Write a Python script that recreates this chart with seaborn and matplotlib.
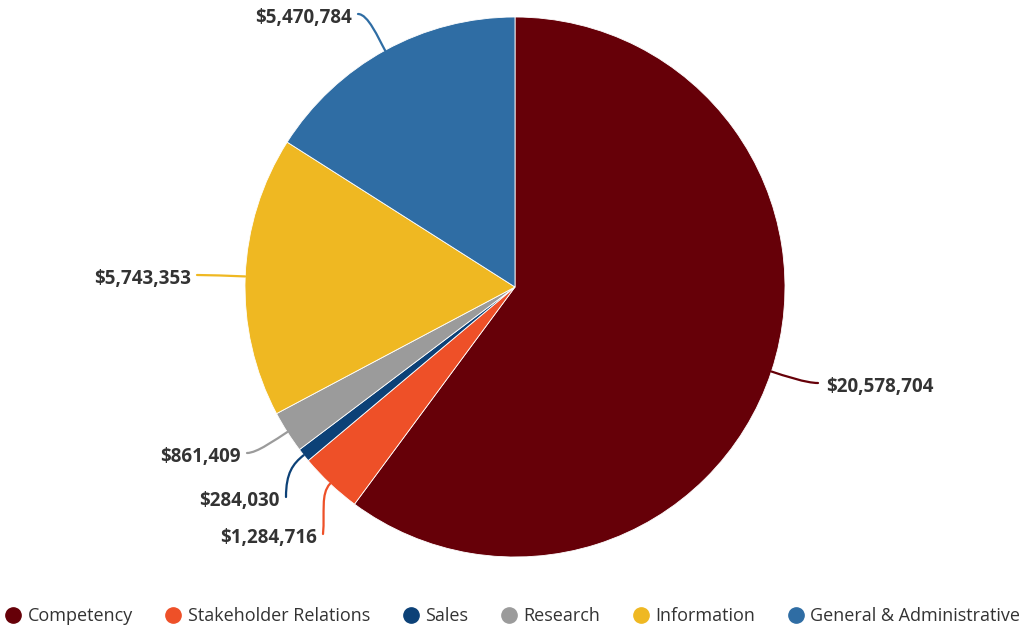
import numpy as np
import matplotlib
matplotlib.use("Agg")
import matplotlib.pyplot as plt
from matplotlib.path import Path
from matplotlib.patches import PathPatch
from matplotlib.lines import Line2D
import seaborn as sns

# Budget by function
categories = ["Competency", "Stakeholder Relations", "Sales", "Research",
              "Information", "General & Administrative"]
amounts = [20578704, 1284716, 284030, 861409, 5743353, 5470784]
colors = ["#660008", "#EE5028", "#0C4177", "#9B9B9B", "#EFB822", "#2F6DA4"]

sns.set_theme(style="white")
plt.rcParams["font.family"] = ["Open Sans", "DejaVu Sans"]

W, H = 1024, 629
fig = plt.figure(figsize=(W / 100, H / 100), dpi=100)
ax = fig.add_axes([0, 0, 1, 1])

cx, cy, R = 515, 287, 270
# y axis runs downward, so start at -90 (top) and go counterclockwise in
# data terms, which reads clockwise on screen
wedges, _ = ax.pie(amounts, colors=colors, startangle=-90, counterclock=True,
                   center=(cx, cy), radius=R, frame=True,
                   wedgeprops=dict(linewidth=0.6, edgecolor="white"))
ax.set_xlim(0, W)
ax.set_ylim(H, 0)
ax.axis("off")

# connector end next to each label: (x, y, side, tangent leaving the label)
label_anchor = [
    (818, 383, "left", (-12, 0)),
    (323, 534, "right", (2, -22)),
    (286, 497, "right", (0, -24)),
    (247, 453, "right", (10, 0)),
    (197, 275, "right", (10, 0)),
    (358, 14, "right", (10, 0)),
]

for w, amt, col, (lx, ly, side, tan) in zip(wedges, amounts, colors, label_anchor):
    mid = np.deg2rad((w.theta1 + w.theta2) / 2)
    ex = w.center[0] + w.r * np.cos(mid)
    ey = w.center[1] + w.r * np.sin(mid)
    out = 14
    c2 = (w.center[0] + (w.r + out) * np.cos(mid),
          w.center[1] + (w.r + out) * np.sin(mid))
    c1 = (lx + tan[0], ly + tan[1])
    path = Path([(lx, ly), c1, c2, (ex, ey)],
                [Path.MOVETO, Path.CURVE4, Path.CURVE4, Path.CURVE4])
    ax.add_patch(PathPatch(path, facecolor="none", edgecolor=col, lw=1.6,
                           capstyle="round"))
    tx = lx - 6 if side == "right" else lx + 8
    ax.text(tx, ly + 4, f"${amt:,}", ha=side if side == "right" else "left",
            va="center", fontsize=13.5, fontweight="bold", color="#333333")

handles = [Line2D([0], [0], marker="o", linestyle="none", markersize=11,
                  markerfacecolor=c, markeredgecolor=c) for c in colors]
fig.legend(handles, categories, loc="center", bbox_to_anchor=(0.5, 1 - 616 / H),
           ncol=6, frameon=False, fontsize=13, handletextpad=0.3,
           columnspacing=1.75, handlelength=1.0, labelcolor="#333333")

fig.savefig("out.png", dpi=100, facecolor="white")
